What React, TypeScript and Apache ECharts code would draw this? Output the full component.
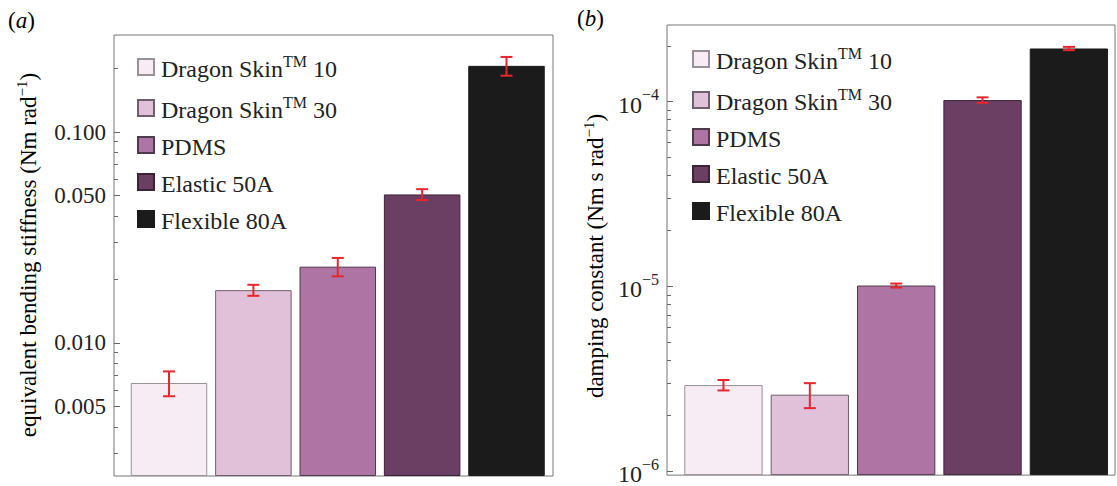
import React, { useEffect, useRef } from 'react';
import * as echarts from 'echarts';

const materials = ['Dragon SkinTM 10', 'Dragon SkinTM 30', 'PDMS', 'Elastic 50A', 'Flexible 80A'];
const positions = [0, 1, 2, 3, 4];
const stiffness = [0.00646, 0.0178, 0.0230, 0.0506, 0.206];
const stiffnessErr = [0.00087, 0.00107, 0.0023, 0.003, 0.021];
const damping = [2.92e-6, 2.59e-6, 1.01e-5, 1.02e-4, 1.94e-4];
const dampingErr = [1.9e-7, 4.0e-7, 2.5e-7, 3.5e-6, 4.0e-6];
const stiffnessLabels = [0.005, 0.01, 0.05, 0.1];
const stiffnessMinor = [0.003, 0.004, 0.006, 0.007, 0.008, 0.009, 0.02, 0.03, 0.04, 0.06, 0.07, 0.08, 0.09, 0.2];
const dampingLabels = [1e-6, 1e-5, 1e-4];
const dampingMinor = [
  2e-6, 3e-6, 4e-6, 5e-6, 6e-6, 7e-6, 8e-6, 9e-6,
  2e-5, 3e-5, 4e-5, 5e-5, 6e-5, 7e-5, 8e-5, 9e-5, 2e-4,
];

const fills = ['#f7ecf4', '#e1c0da', '#ae74a3', '#6a3f63', '#1b1b1b'];
const borders = ['#9a9098', '#6f5f6c', '#4f3a4c', '#3a2437', '#1b1b1b'];
const FONT = "'Liberation Serif', 'Times New Roman', 'DejaVu Serif', serif";
const TXT = '#222';
const ERR = '#e8262e';

export default function App() {
  const ref = useRef<HTMLDivElement>(null);
  useEffect(() => {
    if (!ref.current) return;
    const chart = echarts.init(ref.current, undefined, { renderer: 'svg' });

    const grids = [
      { left: 114, top: 35, width: 439, height: 441 },
      { left: 667, top: 25, width: 448, height: 451 },
    ];
    const yRanges = [
      { min: 0.00234, max: 0.2885 },
      { min: 9.5e-7, max: 2.6e-4 },
    ];
    const xRanges = [
      { min: -0.652, max: 4.551 },
      { min: -0.654, max: 4.534 },
    ];
    const values = [stiffness, damping];
    const errs = [stiffnessErr, dampingErr];
    const barWidths = [76.5, 78.3];

    const xAxes = [0, 1].map((g) => ({
      type: 'value',
      gridIndex: g,
      position: 'bottom',
      min: xRanges[g].min,
      max: xRanges[g].max,
      axisLine: { show: false, onZero: false },
      axisTick: { show: false },
      axisLabel: { show: false },
      splitLine: { show: false },
    }));

    const labelFmt = [
      (v: number) => v.toFixed(3),
      (v: number) => '{b|10}{s|−' + Math.round(-Math.log10(v)) + '}',
    ];
    const labelVals = [stiffnessLabels, dampingLabels];
    const minorVals = [stiffnessMinor, dampingMinor];

    const yAxes: any[] = [];
    [0, 1].forEach((g) => {
      yAxes.push({
        type: 'log',
        logBase: 10,
        gridIndex: g,
        position: 'left',
        min: yRanges[g].min,
        max: yRanges[g].max,
        startValue: yRanges[g].min,
        axisLine: { show: false, onZero: false },
        splitLine: { show: false },
        axisTick: {
          show: true,
          inside: true,
          length: 6,
          lineStyle: { color: '#666', width: 1 },
          customValues: labelVals[g],
        },
        axisLabel: {
          show: true,
          margin: 8,
          fontFamily: FONT,
          fontSize: 23,
          color: TXT,
          customValues: labelVals[g],
          formatter: labelFmt[g],
          rich: {
            b: { fontFamily: FONT, fontSize: 24, color: TXT, lineHeight: 30, verticalAlign: 'bottom' },
            s: { fontFamily: FONT, fontSize: 16, color: TXT, lineHeight: 30, verticalAlign: 'top' },
          },
        },
      });
      yAxes.push({
        type: 'log',
        logBase: 10,
        gridIndex: g,
        position: 'left',
        offset: 0,
        min: yRanges[g].min,
        max: yRanges[g].max,
        axisLine: { show: false, onZero: false },
        splitLine: { show: false },
        axisLabel: { show: false },
        axisTick: {
          show: true,
          inside: true,
          length: 4,
          lineStyle: { color: '#666', width: 1 },
          customValues: minorVals[g],
        },
      });
    });

    const series: any[] = [];
    [0, 1].forEach((g) => {
      materials.forEach((name, i) => {
        series.push({
          name,
          type: 'bar',
          xAxisIndex: g,
          yAxisIndex: g * 2,
          barWidth: barWidths[g],
          barGap: '-100%',
          data: [[positions[i], values[g][i]]],
          itemStyle: { color: fills[i], borderColor: borders[i], borderWidth: 1 },
        });
      });
      series.push({
        name: 'err' + g,
        type: 'custom',
        xAxisIndex: g,
        yAxisIndex: g * 2,
        z: 10,
        data: positions.map((p, i) => [p, values[g][i] - errs[g][i], values[g][i] + errs[g][i]]),
        encode: { x: 0, y: [1, 2] },
        renderItem: (params: any, api: any) => {
          const x = api.value(0);
          const lo = api.coord([x, api.value(1)]);
          const hi = api.coord([x, api.value(2)]);
          const w = 6;
          const st = { stroke: ERR, lineWidth: 2 };
          return {
            type: 'group',
            children: [
              { type: 'line', shape: { x1: lo[0], y1: lo[1], x2: hi[0], y2: hi[1] }, style: st },
              { type: 'line', shape: { x1: lo[0] - w, y1: lo[1], x2: lo[0] + w, y2: lo[1] }, style: st },
              { type: 'line', shape: { x1: hi[0] - w, y1: hi[1], x2: hi[0] + w, y2: hi[1] }, style: st },
            ],
          };
        },
      });
    });

    const legendFmt = (name: string) =>
      name.indexOf('TM') >= 0
        ? '{a|' + name.replace('TM', '}{sup|TM}{a|') + '}'
        : '{a|' + name + '}';
    const legendRich = {
      a: { fontFamily: FONT, fontSize: 24, color: TXT, lineHeight: 28, verticalAlign: 'bottom' },
      sup: { fontFamily: FONT, fontSize: 16, color: TXT, lineHeight: 28, verticalAlign: 'top' },
    };
    const legends = [
      { left: 132, top: 48 },
      { left: 687, top: 40 },
    ].map((pos) => ({
      ...pos,
      orient: 'vertical',
      icon: 'rect',
      itemWidth: 16,
      itemHeight: 16,
      itemGap: 13,
      selectedMode: false,
      data: materials,
      formatter: legendFmt,
      textStyle: { fontFamily: FONT, fontSize: 24, color: TXT, padding: [0, 0, 0, 2], rich: legendRich },
    }));

    const titleRich = {
      a: { fontFamily: FONT, fontSize: 23, color: TXT, lineHeight: 26, verticalAlign: 'bottom' },
      s: { fontFamily: FONT, fontSize: 15, color: TXT, lineHeight: 26, verticalAlign: 'top' },
    };

    chart.setOption({
      animation: false,
      grid: grids.map((g) => ({ ...g, show: true, borderColor: '#777', borderWidth: 1, backgroundColor: 'transparent' })),
      xAxis: xAxes,
      yAxis: yAxes,
      legend: legends,
      series,
      graphic: [
        {
          type: 'text',
          x: 27,
          y: 255,
          rotation: Math.PI / 2,
          style: {
            text: '{a|equivalent bending stiffness (Nm rad}{s|−1}{a|)}',
            rich: titleRich,
            align: 'center',
            verticalAlign: 'middle',
          },
        },
        {
          type: 'text',
          x: 594,
          y: 256,
          rotation: Math.PI / 2,
          style: {
            text: '{a|damping constant (Nm s rad}{s|−1}{a|)}',
            rich: titleRich,
            align: 'center',
            verticalAlign: 'middle',
          },
        },
        {
          type: 'text',
          x: 8,
          y: 20,
          style: {
            text: '{p|(}{i|a}{p|)}',
            verticalAlign: 'middle',
            rich: {
              p: { fontFamily: FONT, fontSize: 23, color: TXT },
              i: { fontFamily: FONT, fontSize: 23, color: TXT, fontStyle: 'italic' },
            },
          },
        },
        {
          type: 'text',
          x: 577,
          y: 18,
          style: {
            text: '{p|(}{i|b}{p|)}',
            verticalAlign: 'middle',
            rich: {
              p: { fontFamily: FONT, fontSize: 23, color: TXT },
              i: { fontFamily: FONT, fontSize: 23, color: TXT, fontStyle: 'italic' },
            },
          },
        },
      ],
    });
    return () => chart.dispose();
  }, []);
  return (
    <div
      ref={ref}
      style={{ position: 'fixed', left: 0, top: 0, width: 1117, height: 486, background: '#fff' }}
    />
  );
}
